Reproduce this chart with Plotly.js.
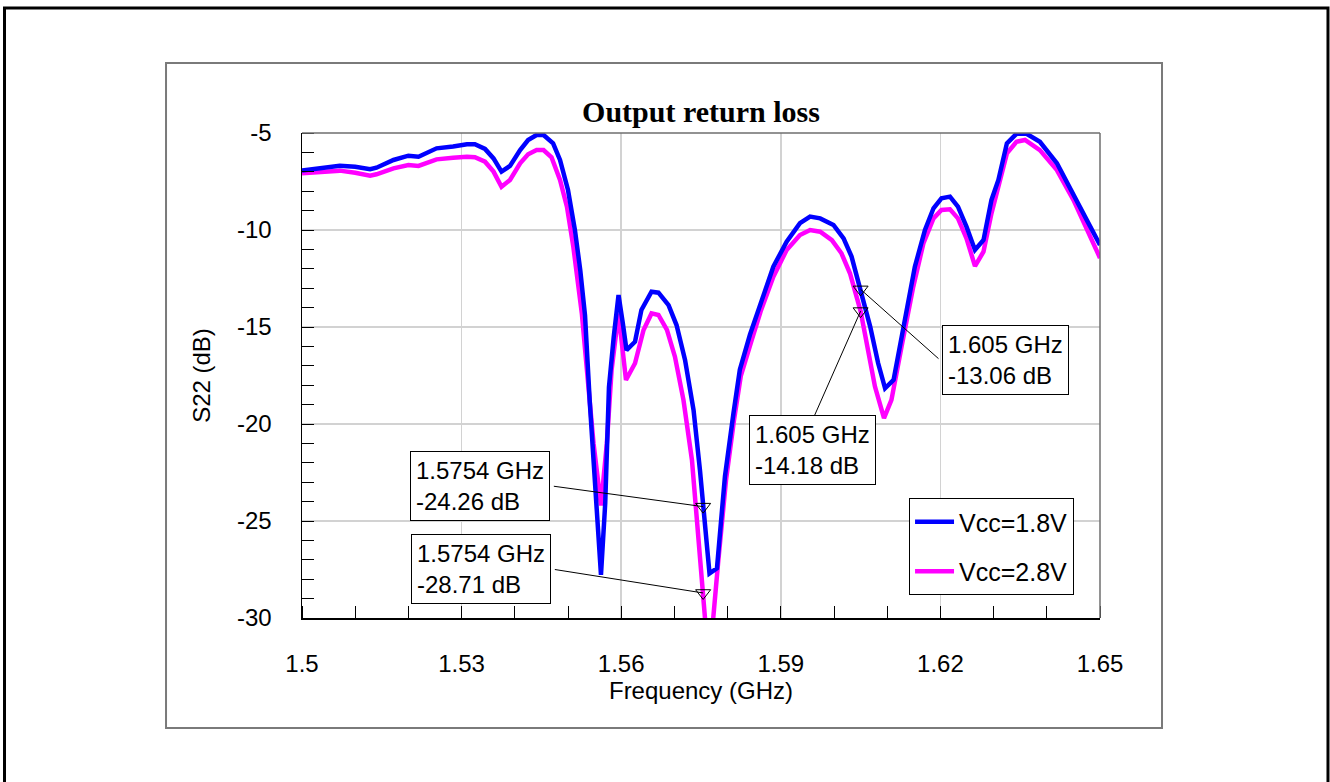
<!DOCTYPE html>
<html>
<head>
<meta charset="utf-8">
<script src="https://cdn.plot.ly/plotly-3.0.1.min.js"></script>
<style>
  html, body { margin: 0; padding: 0; background: #ffffff; }
  #chart { width: 1330px; height: 782px; }
</style>
</head>
<body>
<div id="chart"></div>
<script>
// Frequency sweep (GHz) and S22 (dB) for the two supply voltages
const freqA = [1.5000, 1.5035, 1.5071, 1.5100, 1.5128, 1.5140, 1.5172, 1.5200, 1.5219, 1.5253,
  1.5272, 1.5284, 1.5310, 1.5325, 1.5344, 1.5360, 1.5375, 1.5391, 1.5410, 1.5425,
  1.5441, 1.5454, 1.5472, 1.5485, 1.5500, 1.5513, 1.5523, 1.5532, 1.5541, 1.5550,
  1.5562, 1.5570, 1.5577, 1.5586, 1.5595, 1.5603, 1.5610, 1.5626, 1.5638, 1.5657,
  1.5670, 1.5689, 1.5704, 1.5720, 1.5736, 1.5748, 1.5754, 1.5766, 1.5780, 1.5795,
  1.5811, 1.5823, 1.5842, 1.5861, 1.5886, 1.5911, 1.5936, 1.5955, 1.5974, 1.5999,
  1.6018, 1.6033, 1.6050, 1.6068, 1.6083, 1.6096, 1.6112, 1.6130, 1.6152, 1.6171,
  1.6187, 1.6202, 1.6218, 1.6233, 1.6249, 1.6265, 1.6281, 1.6296, 1.6309, 1.6325,
  1.6343, 1.6362, 1.6387, 1.6419, 1.6450, 1.6475, 1.6500];
const s22Vcc18 = [-6.94, -6.82, -6.69, -6.74, -6.87, -6.79, -6.39, -6.17, -6.22, -5.79,
  -5.70, -5.70, -5.58, -5.58, -5.82, -6.31, -6.99, -6.70, -5.88, -5.36,
  -5.10, -5.10, -5.53, -6.39, -7.94, -10.00, -12.06, -14.40, -18.90, -22.37,
  -27.78, -24.07, -18.10, -15.50, -13.35, -14.80, -16.19, -15.76, -14.12, -13.18,
  -13.23, -13.87, -14.90, -16.70, -19.28, -22.37, -24.26, -27.70, -27.44, -22.70,
  -19.45, -17.20, -15.40, -13.95, -11.89, -10.60, -9.65, -9.31, -9.40, -9.74,
  -10.43, -11.37, -13.06, -14.98, -16.87, -18.16, -17.73, -14.98, -11.89, -10.00,
  -8.88, -8.37, -8.28, -8.80, -9.83, -11.03, -10.52, -8.45, -7.42, -5.53,
  -5.04, -5.04, -5.45, -6.56, -8.11, -9.48, -10.77];

const freqB = [1.5000, 1.5035, 1.5071, 1.5100, 1.5128, 1.5140, 1.5172, 1.5200, 1.5219, 1.5253,
  1.5272, 1.5284, 1.5310, 1.5325, 1.5344, 1.5360, 1.5375, 1.5391, 1.5410, 1.5425,
  1.5441, 1.5454, 1.5469, 1.5485, 1.5498, 1.5510, 1.5526, 1.5535, 1.5548, 1.5562,
  1.5573, 1.5582, 1.5595, 1.5609, 1.5626, 1.5642, 1.5657, 1.5670, 1.5686, 1.5701,
  1.5717, 1.5733, 1.5745, 1.5754, 1.5765, 1.5782, 1.5797, 1.5812, 1.5825, 1.5845,
  1.5862, 1.5886, 1.5911, 1.5936, 1.5955, 1.5974, 1.5996, 1.6014, 1.6030, 1.6050,
  1.6061, 1.6077, 1.6094, 1.6108, 1.6127, 1.6149, 1.6168, 1.6187, 1.6202, 1.6218,
  1.6233, 1.6249, 1.6265, 1.6281, 1.6296, 1.6309, 1.6325, 1.6343, 1.6359, 1.6387,
  1.6419, 1.6450, 1.6475, 1.6500];
const s22Vcc28 = [-7.08, -7.00, -6.94, -7.05, -7.20, -7.13, -6.82, -6.65, -6.70, -6.36,
  -6.27, -6.27, -6.22, -6.25, -6.48, -6.99, -7.77, -7.42, -6.56, -6.10,
  -5.88, -5.88, -6.25, -7.42, -8.80, -10.86, -14.30, -17.20, -21.00, -24.20,
  -21.00, -17.20, -14.30, -17.73, -16.87, -15.15, -14.30, -14.38, -15.15, -16.53,
  -18.76, -21.86, -25.46, -28.71, -32.50, -27.20, -22.90, -19.80, -17.50, -15.70,
  -14.20, -12.41, -11.03, -10.26, -10.00, -10.09, -10.52, -11.20, -12.23, -14.18,
  -15.67, -18.07, -19.70, -18.76, -16.01, -12.92, -10.69, -9.40, -8.97, -8.93,
  -9.40, -10.43, -11.86, -11.12, -9.14, -7.77, -6.05, -5.45, -5.36, -5.88,
  -6.91, -8.45, -10.00, -11.44];

// Marker readouts
const markerFreq = [1.5754, 1.5754, 1.605, 1.605];
const markerS22 = [-24.26, -28.71, -13.06, -14.18];
const markerLabels = ['1.5754 GHz<br>-24.26 dB', '1.5754 GHz<br>-28.71 dB',
  '1.605 GHz<br>-13.06 dB', '1.605 GHz<br>-14.18 dB'];
// Readout box centres (GHz, dB) and leader-line tail offsets (px)
const boxFreq = [1.53346, 1.53361, 1.63230, 1.59596];
const boxS22 = [-23.21, -27.48, -16.70, -21.34];
const leaderDx = [-150.8, -149.8, 79.4, -47.3];
const leaderDy = [-20.6, -23.7, 70.6, 107.2];

const xTickVals = [1.5, 1.53, 1.56, 1.59, 1.62, 1.65];
const xTickText = ['1.5', '1.53', '1.56', '1.59', '1.62', '1.65'];
const yTickVals = [-5, -10, -15, -20, -25, -30];
const yTickText = ['-5', '-10', '-15', '-20', '-25', '-30'];

const sans = 'Liberation Sans, Arial, sans-serif';
const serif = 'Liberation Serif, Times New Roman, serif';

const traces = [
  {
    x: freqB, y: s22Vcc28, type: 'scatter', mode: 'lines', name: 'Vcc=2.8V',
    line: {color: '#ff00ff', width: 4.5}, legendrank: 2, legendgroup: 'b'
  },
  {
    x: freqA, y: s22Vcc18, type: 'scatter', mode: 'lines', name: 'Vcc=1.8V',
    line: {color: '#0000ff', width: 4.5}, legendrank: 1, legendgroup: 'a'
  },
  {
    x: markerFreq, y: markerS22, type: 'scatter', mode: 'markers', showlegend: false,
    marker: {symbol: 'triangle-down-open', size: 13, color: '#000000', line: {width: 1, color: '#000000'}},
    hoverinfo: 'skip'
  }
];

const annotations = [];
markerFreq.forEach((f, i) => {
  // leader line from the readout box to the marker
  annotations.push({
    x: f, y: markerS22[i], xref: 'x', yref: 'y', text: '',
    showarrow: true, arrowhead: 0, arrowwidth: 1, arrowcolor: '#000000',
    ax: leaderDx[i], ay: leaderDy[i], axref: 'pixel', ayref: 'pixel', standoff: 0
  });
  // readout box
  annotations.push({
    x: boxFreq[i], y: boxS22[i], xref: 'x', yref: 'y', text: markerLabels[i],
    showarrow: false, align: 'left', xanchor: 'center', yanchor: 'middle',
    font: {family: sans, size: 24, color: '#000000'},
    bgcolor: '#ffffff', bordercolor: '#000000', borderwidth: 1, borderpad: 5
  });
});

const shapes = [
  // outer page frame
  {type: 'rect', xref: 'paper', yref: 'paper', x0: -0.3728, x1: 1.2857, y0: -0.37, y1: 1.2577,
   line: {color: '#000000', width: 3}, layer: 'below'},
  // chart panel frame
  {type: 'rect', xref: 'paper', yref: 'paper', x0: -0.1704, x1: 1.0777, y0: -0.2268, y1: 1.1443,
   line: {color: '#7a7a7a', width: 2}, layer: 'below'},
  // top and right edges of the plotting area
  {type: 'line', xref: 'paper', yref: 'paper', x0: 0, x1: 1, y0: 1, y1: 1,
   line: {color: '#6e6e6e', width: 1.5}},
  {type: 'line', xref: 'paper', yref: 'paper', x0: 1, x1: 1, y0: 0, y1: 1,
   line: {color: '#6e6e6e', width: 1.5}}
];

const layout = {
  width: 1330, height: 782,
  margin: {l: 302, r: 230, t: 133, b: 164},
  paper_bgcolor: '#ffffff', plot_bgcolor: '#ffffff',
  font: {family: sans, size: 24, color: '#000000'},
  title: {
    text: '<b>Output return loss</b>',
    font: {family: serif, size: 30, color: '#000000'},
    x: 0.5, xref: 'paper', xanchor: 'center', y: 0.858, yref: 'container', yanchor: 'middle'
  },
  xaxis: {
    range: [1.5, 1.65], tickmode: 'array', tickvals: xTickVals, ticktext: xTickText,
    ticks: '', showgrid: true, gridcolor: '#d2d2d2', gridwidth: 1.5,
    showline: true, linecolor: '#000000', linewidth: 1.5, zeroline: false,
    tickfont: {family: sans, size: 24}, ticklabelstandoff: 24,
    minor: {dtick: 0.01, tick0: 1.5, ticks: 'inside', ticklen: 12, tickcolor: '#000000', tickwidth: 1, showgrid: false},
    title: {text: 'Frequency (GHz)', font: {family: sans, size: 24}, standoff: 5}
  },
  yaxis: {
    range: [-30, -5], tickmode: 'array', tickvals: yTickVals, ticktext: yTickText,
    ticks: '', showgrid: true, gridcolor: '#d2d2d2', gridwidth: 1.5,
    showline: true, linecolor: '#000000', linewidth: 1.5, zeroline: false,
    tickfont: {family: sans, size: 24}, ticklabelstandoff: 24,
    minor: {dtick: 1, tick0: -30, ticks: 'inside', ticklen: 12, tickcolor: '#000000', tickwidth: 1, showgrid: false},
    title: {text: 'S22 (dB)', font: {family: sans, size: 24}, standoff: 19}
  },
  legend: {
    x: 0.7607, y: 0.2474, xanchor: 'left', yanchor: 'top',
    bgcolor: '#ffffff', bordercolor: '#000000', borderwidth: 1,
    font: {family: sans, size: 25, color: '#000000'},
    tracegroupgap: 14, traceorder: 'grouped', itemwidth: 39
  },
  showlegend: true,
  annotations: annotations,
  shapes: shapes
};

Plotly.newPlot('chart', traces, layout, {displayModeBar: false, staticPlot: true});
</script>
</body>
</html>
